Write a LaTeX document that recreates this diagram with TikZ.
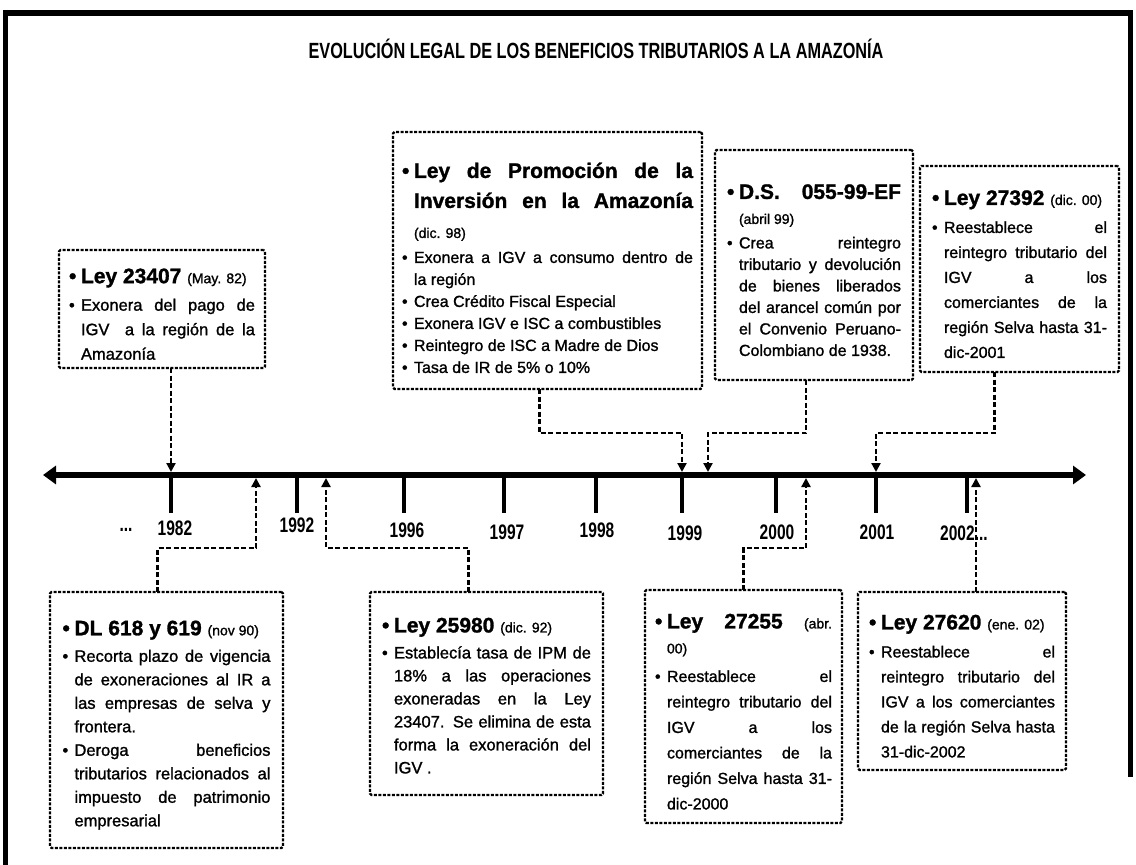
\documentclass[tikz,border=0pt]{standalone}
\usepackage{fontspec}
\setmainfont{Liberation Sans}[FakeBold=1.3]
\newfontfamily\condfont{Liberation Sans}[FakeStretch=0.74]
\usetikzlibrary{arrows.meta, calc}

% viñeta con sangría francesa
\newcommand{\vineta}{\par\noindent\hangindent=12pt\hangafter=1\makebox[12pt][l]{\textbullet}}
\newcommand{\chico}[1]{{\mdseries\fontsize{14}{16}\selectfont #1}}
\newcommand{\grande}{\bfseries\fontsize{21}{25}\selectfont}

\tikzset{
    caja/.style={draw, line width=2.2pt, dash pattern=on 3pt off 1.5pt, rounded corners=1.5pt,
        anchor=north west, inner ysep=0pt, outer sep=0pt, align=justify,
        execute at begin node={\tolerance=10000\hbadness=10000\hyphenpenalty=10000\exhyphenpenalty=10000}},
    conector/.style={line width=2.2pt, dash pattern=on 5pt off 2.5pt, -{Triangle[length=9pt,width=9pt]}},
    linea/.style={line width=6pt, {Triangle[length=13pt,width=18pt]}-{Triangle[length=13pt,width=18pt]}},
    marca/.style={line width=4pt},
    anio/.style={font=\condfont\bfseries\fontsize{21}{21}\selectfont, inner sep=0pt},
}

\begin{document}
\begin{tikzpicture}[x=1pt, y=-1pt]
    \useasboundingbox (0,0) rectangle (1136,865);

    % ══════════════════════════════════════════════
    % ══ MARCO Y TÍTULO ══
    % ══════════════════════════════════════════════
    \draw[line width=5.5pt, line join=miter] (5.5,865) -- (5.5,13) -- (1130.5,13) -- (1130.5,777);
    \node[font=\condfont\bfseries\fontsize{22}{22}\selectfont] (titulo) at (596,49)
        {EVOLUCIÓN LEGAL DE LOS BENEFICIOS TRIBUTARIOS A LA AMAZONÍA};

    % ══════════════════════════════════════════════
    % ══ LÍNEA DE TIEMPO ══
    % ══════════════════════════════════════════════
    \draw[linea] (43,475) -- (1086,475);

    % Marcas de los años
    \foreach \x/\a in {171/1982, 297/1992, 404/1996, 504/1997, 596/1998, 682/1999, 776/2000, 876/2001, 967/2002} {
        \coordinate (m\a) at (\x,475);
        \draw[marca] (m\a) -- ++(0,38);
    }

    % Etiquetas de los años
    \foreach \x/\y/\a in {175/528/1982, 297/525/1992, 407/530/1996, 507/532/1997, 597/530/1998, 685/533/1999, 777/532/2000, 877/532/2001} {
        \node[anio] (a\a) at (\x,\y) {\a};
    }
    \node[anio] (puntos) at (126,530) {...};
    \node[anio, anchor=west] (a2002) at (940,533) {2002...};

    % Puntos de llegada fuera de las marcas
    \coordinate (pDL) at (256,475);
    \coordinate (pL25980) at (326,475);
    \coordinate (pDS) at (708,475);
    \coordinate (pL27255) at (806,475);
    \coordinate (pL27620) at (976,475);

    % ══════════════════════════════════════════════
    % ══ NORMAS (ARRIBA) ══
    % ══════════════════════════════════════════════

    % Ley 23407
    \node[caja, text width=186pt, inner xsep=10pt, minimum height=118pt,
          font=\fontsize{16.5}{24.5}\selectfont] (L23407) at (59,250) {%
        {\grande\vineta Ley 23407 \chico{(May. 82)}\par}\vspace{3pt}%
        \vineta Exonera del pago de\linebreak IGV\ \ a la región de la\linebreak Amazonía\par};

    % Ley de Promoción de la Inversión
    \node[caja, text width=291pt, inner xsep=9pt, minimum height=257pt,
          font=\fontsize{16}{22}\selectfont] (LPromocion) at (393,132) {%
        {\bfseries\fontsize{21}{30}\selectfont\vineta Ley de Promoción de la\linebreak Inversión en la Amazonía\linebreak \chico{(dic. 98)}\par}\vspace{3pt}%
        \vineta Exonera a IGV a consumo dentro de\linebreak la región
        \vineta Crea Crédito Fiscal Especial
        \vineta Exonera IGV e ISC a combustibles
        \vineta Reintegro de ISC a Madre de Dios
        \vineta Tasa de IR de 5\% o 10\%\par\vspace{8pt}};

    % D.S. 055-99-EF
    \node[caja, text width=174pt, inner xsep=12pt, minimum height=230pt,
          font=\fontsize{16}{21.5}\selectfont] (DS) at (715,150) {%
        {\grande\vineta D.S. 055-99-EF\linebreak \chico{(abril 99)}\par}\vspace{3pt}%
        \vineta Crea reintegro\linebreak tributario y devolución\linebreak de bienes liberados\linebreak
        del arancel común por\linebreak el Convenio Peruano-\linebreak Colombiano de 1938.\par\vspace{10pt}};

    % Ley 27392
    \node[caja, text width=175pt, inner xsep=12pt, minimum height=206pt,
          font=\fontsize{16}{25}\selectfont] (L27392) at (920,166) {%
        {\grande\vineta Ley 27392 \chico{(dic. 00)}\par}\vspace{3pt}%
        \vineta Reestablece el\linebreak reintegro tributario del\linebreak IGV a los\linebreak
        comerciantes de la\linebreak región Selva hasta 31-\linebreak dic-2001\par};

    % ══════════════════════════════════════════════
    % ══ NORMAS (ABAJO) ══
    % ══════════════════════════════════════════════

    % DL 618 y 619
    \node[caja, text width=208pt, inner xsep=12.5pt, minimum height=256pt,
          font=\fontsize{16.5}{23.5}\selectfont] (DL) at (50,592) {%
        {\grande\vineta DL 618 y 619 \chico{(nov 90)}\par}\vspace{3pt}%
        \vineta Recorta plazo de vigencia\linebreak de exoneraciones al IR a\linebreak las empresas de selva y\linebreak frontera.
        \vineta Deroga beneficios\linebreak tributarios relacionados al\linebreak impuesto de patrimonio\linebreak empresarial\par};

    % Ley 25980
    \node[caja, text width=209pt, inner xsep=12pt, minimum height=203pt,
          font=\fontsize{16.5}{23}\selectfont] (L25980) at (370,592) {%
        \vspace{-6pt}{\grande\vineta Ley 25980 \chico{(dic. 92)}\par}\vspace{3pt}%
        \vineta Establecía tasa de IPM de\linebreak 18\% a las operaciones\linebreak exoneradas en la Ley\linebreak
        23407. Se elimina de esta\linebreak forma la exoneración del\linebreak IGV .\par};

    % Ley 27255
    \node[caja, text width=177pt, inner xsep=10pt, minimum height=233pt,
          font=\fontsize{16}{25.5}\selectfont] (L27255) at (645,590) {%
        {\grande\vineta Ley 27255 \chico{(abr.}\linebreak \chico{00)}\par}\vspace{3pt}%
        \vineta Reestablece el\linebreak reintegro tributario del\linebreak IGV a los\linebreak
        comerciantes de la\linebreak región Selva hasta 31-\linebreak dic-2000\par\vspace{6pt}};

    % Ley 27620
    \node[caja, text width=186pt, inner xsep=11pt, minimum height=178pt,
          font=\fontsize{16}{25}\selectfont] (L27620) at (858,592) {%
        {\grande\vineta Ley 27620 \chico{(ene. 02)}\par}\vspace{3pt}%
        \vineta Reestablece el\linebreak reintegro tributario del\linebreak IGV a los comerciantes\linebreak
        de la región Selva hasta\linebreak 31-dic-2002\par};

    % ══════════════════════════════════════════════
    % ══ CONECTORES ══
    % ══════════════════════════════════════════════

    % Desde arriba
    \draw[conector] (L23407.south -| m1982) -- ([yshift=3pt]m1982);
    \draw[conector] ([xshift=-8pt]LPromocion.south) |- ([yshift=42pt]m1999) -- ([yshift=3pt]m1999);
    \draw[conector] ([xshift=-8pt]DS.south) |- ([yshift=42pt]pDS) -- ([yshift=3pt]pDS);
    \draw[conector] ([xshift=-25pt]L27392.south) |- ([yshift=42pt]m2001) -- ([yshift=3pt]m2001);

    % Desde abajo
    \draw[conector] ([xshift=-9pt]DL.north) |- ([yshift=-73pt]pDL) -- ([yshift=-3pt]pDL);
    \draw[conector] ([xshift=-18pt]L25980.north) |- ([yshift=-73pt]pL25980) -- ([yshift=-3pt]pL25980);
    \draw[conector] (L27255.north) |- ([yshift=-73pt]pL27255) -- ([yshift=-3pt]pL27255);
    \draw[conector] ([xshift=14pt]L27620.north) -- ([yshift=-3pt]pL27620);

\end{tikzpicture}
\end{document}
